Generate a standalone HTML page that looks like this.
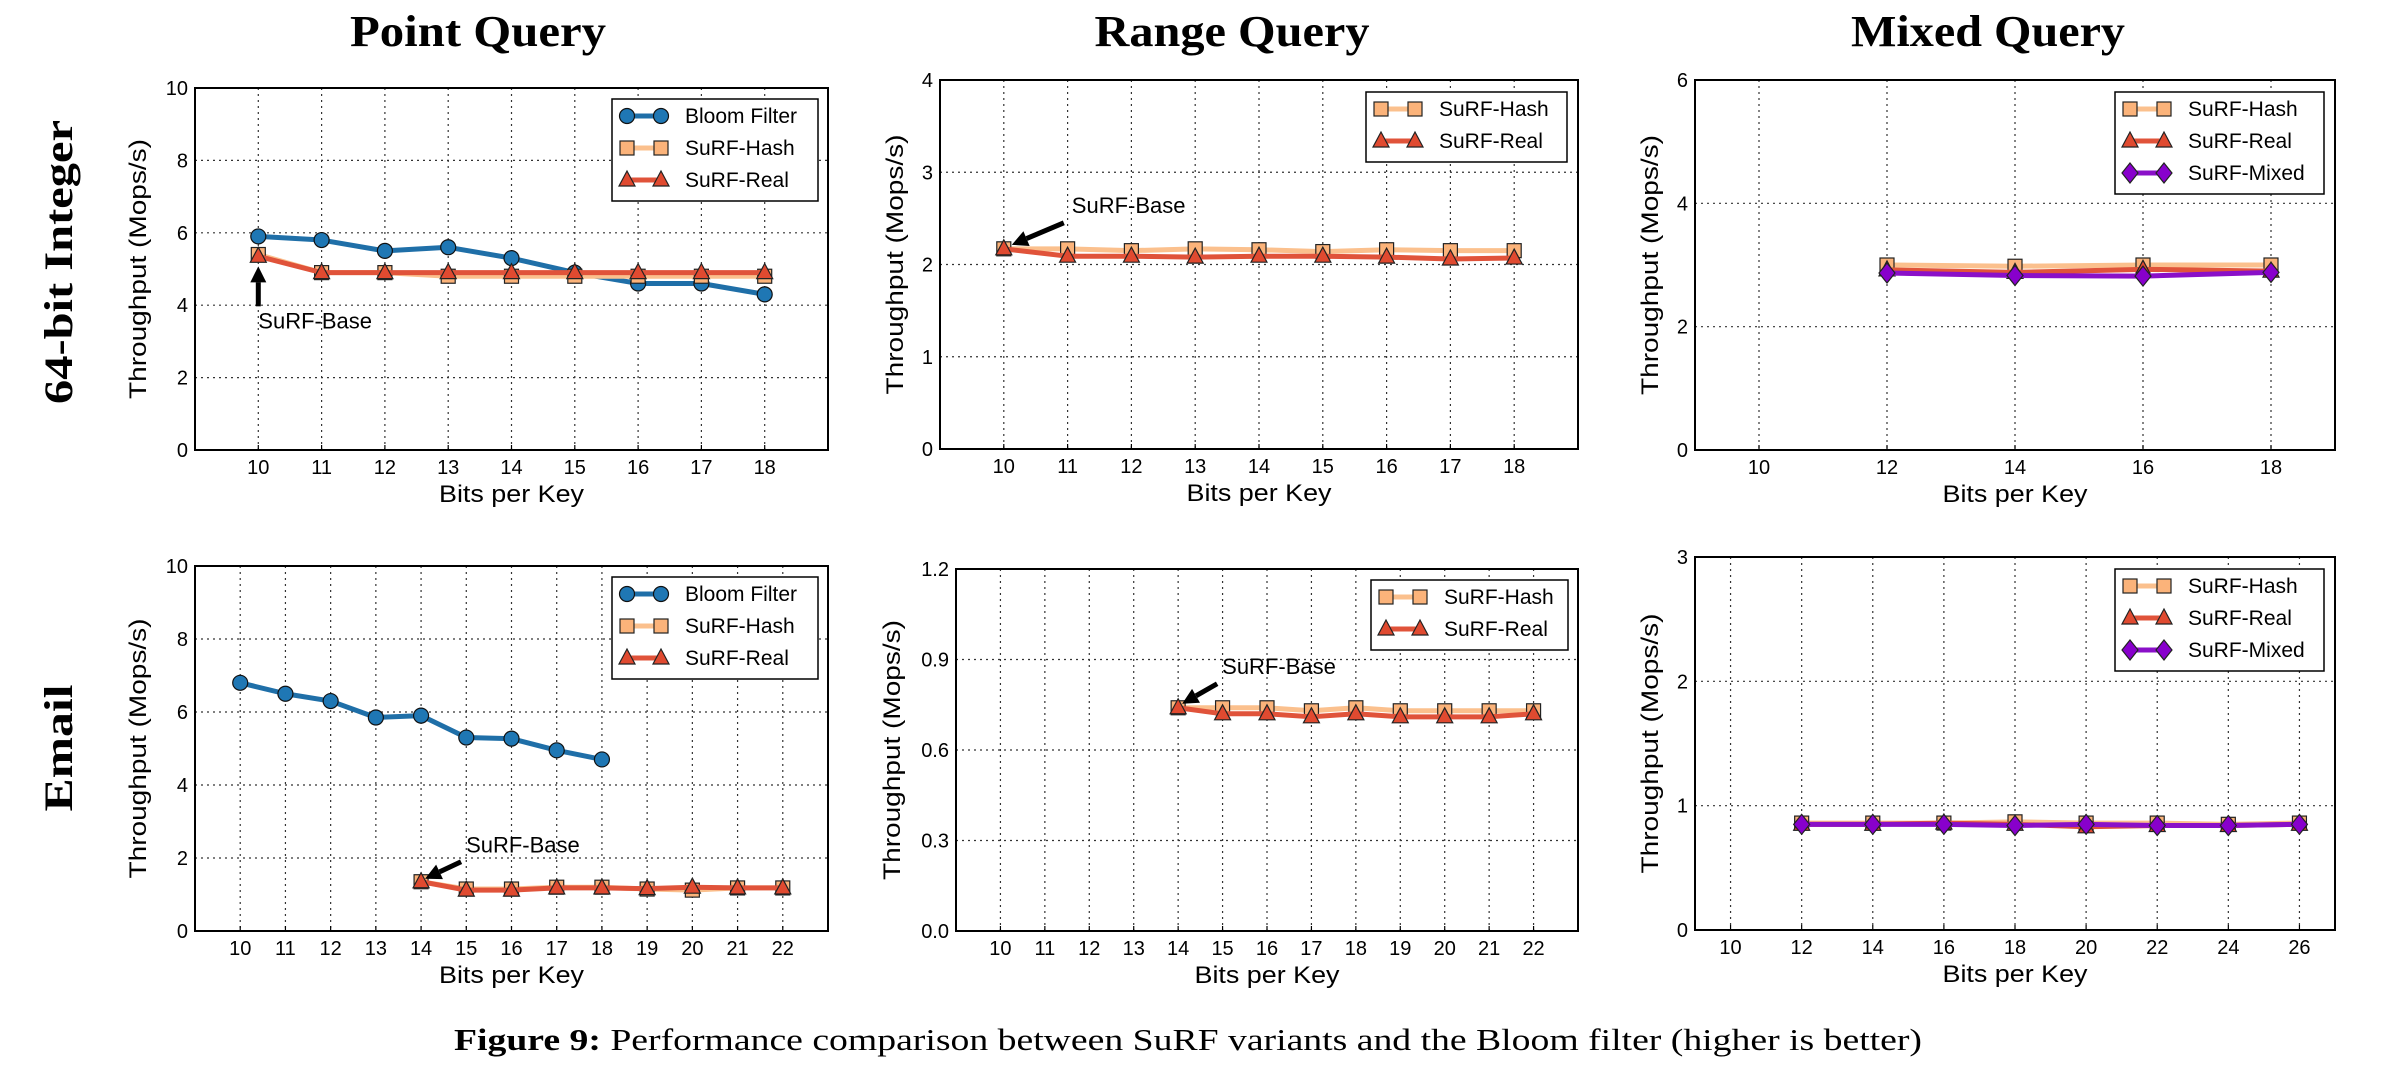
<!DOCTYPE html>
<html><head><meta charset="utf-8">
<style>
html,body{margin:0;padding:0;background:#fff;}
svg{display:block;}
</style></head>
<body>
<svg id="fig" xmlns="http://www.w3.org/2000/svg" width="2396" height="1076" viewBox="0 0 2396 1076">
<rect width="2396" height="1076" fill="#fff"/>
<text x="478" y="46" text-anchor="middle" font-family="Liberation Serif, serif" font-weight="bold" font-size="44" textLength="256" lengthAdjust="spacingAndGlyphs">Point Query</text>
<text x="1232" y="46" text-anchor="middle" font-family="Liberation Serif, serif" font-weight="bold" font-size="44" textLength="275" lengthAdjust="spacingAndGlyphs">Range Query</text>
<text x="1988" y="46" text-anchor="middle" font-family="Liberation Serif, serif" font-weight="bold" font-size="44" textLength="274" lengthAdjust="spacingAndGlyphs">Mixed Query</text>
<text transform="translate(72,262) rotate(-90)" text-anchor="middle" font-family="Liberation Serif, serif" font-weight="bold" font-size="40" textLength="284" lengthAdjust="spacingAndGlyphs">64-bit Integer</text>
<text transform="translate(72,748) rotate(-90)" text-anchor="middle" font-family="Liberation Serif, serif" font-weight="bold" font-size="40" textLength="127" lengthAdjust="spacingAndGlyphs">Email</text>
<text x="454" y="1050" font-family="Liberation Serif, serif" font-size="31" textLength="1468" lengthAdjust="spacingAndGlyphs"><tspan font-weight="bold">Figure 9:</tspan> Performance comparison between SuRF variants and the Bloom filter (higher is better)</text>
</svg>
<script>
// ---- data ----
const xIntTop = [10,11,12,13,14,15,16,17,18];
const pointIntBloom = [5.9,5.8,5.5,5.6,5.3,4.9,4.6,4.6,4.3];
const pointIntHash = [5.4,4.9,4.9,4.8,4.8,4.8,4.8,4.8,4.8];
const pointIntReal = [5.35,4.9,4.9,4.9,4.9,4.9,4.9,4.9,4.9];
const rangeIntHash = [2.17,2.17,2.15,2.17,2.16,2.14,2.16,2.15,2.15];
const rangeIntReal = [2.17,2.09,2.09,2.08,2.09,2.09,2.08,2.06,2.07];
const xMixedInt = [12,14,16,18];
const mixedIntHash = [3.0,2.98,3.0,3.0];
const mixedIntReal = [2.92,2.88,2.93,2.9];
const mixedIntMixed = [2.87,2.83,2.82,2.88];
const xEmailBloom = [10,11,12,13,14,15,16,17,18];
const pointEmailBloom = [6.8,6.5,6.3,5.85,5.9,5.3,5.27,4.95,4.7];
const xEmailSurf = [14,15,16,17,18,19,20,21,22];
const pointEmailHash = [1.35,1.15,1.15,1.2,1.2,1.15,1.12,1.18,1.18];
const pointEmailReal = [1.35,1.12,1.12,1.18,1.18,1.16,1.2,1.18,1.18];
const rangeEmailHash = [0.74,0.74,0.74,0.73,0.74,0.73,0.73,0.73,0.73];
const rangeEmailReal = [0.74,0.72,0.72,0.71,0.72,0.71,0.71,0.71,0.72];
const xMixedEmail = [12,14,16,18,20,22,24,26];
const mixedEmailHash = [0.86,0.86,0.86,0.87,0.86,0.86,0.85,0.86];
const mixedEmailReal = [0.85,0.85,0.86,0.85,0.83,0.84,0.84,0.85];
const mixedEmailMixed = [0.85,0.85,0.85,0.84,0.85,0.84,0.84,0.85];
const xTicksTop = [10,11,12,13,14,15,16,17,18];
const xTicksMixedTop = [10,12,14,16,18];
const xTicksEmail = [10,11,12,13,14,15,16,17,18,19,20,21,22];
const xTicksMixedEmail = [10,12,14,16,18,20,22,24,26];
const yTicksPoint = [0,2,4,6,8,10];
const yTicksRangeInt = [0,1,2,3,4];
const yTicksMixedInt = [0,2,4,6];
const yTicksRangeEmail = [0,0.3,0.6,0.9,1.2];
const yTicksRangeEmailLabels = ["0.0","0.3","0.6","0.9","1.2"];
const yTicksMixedEmail = [0,1,2,3];

const NS = "http://www.w3.org/2000/svg";
const svg = document.getElementById('fig');
function mk(tag, attrs, parent){
  const e = document.createElementNS(NS, tag);
  for (const k in attrs) e.setAttribute(k, attrs[k]);
  (parent||svg).appendChild(e);
  return e;
}
const STY = {
  bloom:{line:'#1f6fa8', fill:'#1f77b4', marker:'circle', label:'Bloom Filter'},
  hash:{line:'#fbc08d', fill:'#fbb37a', marker:'square', label:'SuRF-Hash'},
  real:{line:'#e0533a', fill:'#e04a30', marker:'triangle', label:'SuRF-Real'},
  mixed:{line:'#8a10c8', fill:'#8800cc', marker:'diamond', label:'SuRF-Mixed'}
};
function marker(g, type, cx, cy, st){
  let e;
  if (type==='circle') e = mk('circle',{cx:cx,cy:cy,r:7.5,fill:st.fill,stroke:'#111','stroke-width':1.2},g);
  else if (type==='square') e = mk('rect',{x:cx-7,y:cy-7,width:14,height:14,fill:st.fill,stroke:'#222','stroke-width':1.2},g);
  else if (type==='triangle') e = mk('polygon',{points:`${cx},${cy-9} ${cx+8},${cy+6} ${cx-8},${cy+6}`,fill:st.fill,stroke:'#222','stroke-width':1.2},g);
  else e = mk('polygon',{points:`${cx},${cy-10} ${cx+8},${cy} ${cx},${cy+10} ${cx-8},${cy}`,fill:st.fill,stroke:'#222','stroke-width':1.2},g);
  return e;
}
function panel(p){
  const g = mk('g',{});
  
  
  const sx = v => p.L + (v - p.xmin)/(p.xmax - p.xmin)*(p.R - p.L);
  const sy = v => p.B - (v - p.ymin)/(p.ymax - p.ymin)*(p.B - p.T);
  // grid
  p.xticks.forEach(t=>{
    const l = mk('line',{x1:sx(t),x2:sx(t),y1:p.T,y2:p.B,stroke:'#333','stroke-width':1.2,'stroke-dasharray':'2,4'},g);
    
    
    const tx = mk('text',{x:sx(t),y:p.B+24,'text-anchor':'middle','font-family':'Liberation Sans, sans-serif','font-size':20},g);
    tx.textContent = t;
    
    
    mk('line',{x1:sx(t),x2:sx(t),y1:p.B,y2:p.B-5,stroke:'#000','stroke-width':1.2},g);
  });
  p.yticks.forEach((t,i)=>{
    if (t!==p.ymin && t!==p.ymax){
      const l = mk('line',{x1:p.L,x2:p.R,y1:sy(t),y2:sy(t),stroke:'#333','stroke-width':1.2,'stroke-dasharray':'2,4'},g);
      
      
    }
    const tx = mk('text',{x:p.L-7,y:sy(t)+7,'text-anchor':'end','font-family':'Liberation Sans, sans-serif','font-size':20},g);
    tx.textContent = p.ylabels ? p.ylabels[i] : t;
    
    
  });
  // frame
  const fr = mk('rect',{x:p.L,y:p.T,width:p.R-p.L,height:p.B-p.T,fill:'none',stroke:'#000','stroke-width':2},g);
  
  
  // axis titles
  const xt = mk('text',{x:(p.L+p.R)/2,y:p.B+52,'text-anchor':'middle','font-family':'Liberation Sans, sans-serif','font-size':24,textLength:145,lengthAdjust:'spacingAndGlyphs'},g);
  xt.textContent = 'Bits per Key';
  
  
  const yc = (p.T+p.B)/2;
  const yt = mk('text',{transform:`translate(${p.L+p.ylabOff},${yc}) rotate(-90)`,'text-anchor':'middle','font-family':'Liberation Sans, sans-serif','font-size':24,textLength:260,lengthAdjust:'spacingAndGlyphs'},g);
  yt.textContent = 'Throughput (Mops/s)';
  
  
  // series
  p.series.forEach(s=>{
    const st = STY[s.key];
    const sg = mk('g',{},g);
    
    
    const pts = s.x.map((xv,i)=>sx(xv)+','+sy(s.y[i])).join(' ');
    mk('polyline',{points:pts,fill:'none',stroke:st.line,'stroke-width':5,'stroke-linejoin':'round'},sg);
    s.x.forEach((xv,i)=>{
      const m = marker(sg, st.marker, sx(xv), sy(s.y[i]), st);
      
      
    });
  });
  // legend
  const lg = mk('g',{},g);
  
  
  const rows = p.series.length;
  mk('rect',{x:p.lgL,y:p.lgT,width:p.lgW,height:rows*32+6,fill:'#fff',stroke:'#000','stroke-width':1.5},lg);
  p.series.forEach((s,i)=>{
    const st = STY[s.key];
    const cy = p.lgT+17+i*32;
    const eg = mk('g',{},lg);
    
    
    mk('line',{x1:p.lgL+15,x2:p.lgL+49,y1:cy,y2:cy,stroke:st.line,'stroke-width':5},eg);
    marker(eg, st.marker, p.lgL+15, cy, st);
    marker(eg, st.marker, p.lgL+49, cy, st);
    const t = mk('text',{x:p.lgL+73,y:cy+7,'font-family':'Liberation Sans, sans-serif','font-size':21},eg);
    t.textContent = st.label;
  });
  // annotation
  if (p.ann){
    const a = p.ann;
    const hx = sx(a.x)+a.hdx, hy = sy(a.y)+a.hdy;
    const tx0 = hx + a.tdx, ty0 = hy + a.tdy;
    const ag = mk('g',{},g);
    
    
    const ang = Math.atan2(hy-ty0, hx-tx0);
    const hl = 16, hw = 8;
    const bx = hx - hl*Math.cos(ang), by = hy - hl*Math.sin(ang);
    mk('line',{x1:tx0,y1:ty0,x2:bx,y2:by,stroke:'#000','stroke-width':5},ag);
    const px = -Math.sin(ang), py = Math.cos(ang);
    mk('polygon',{points:`${hx},${hy} ${bx+px*hw},${by+py*hw} ${bx-px*hw},${by-py*hw}`,fill:'#000'},ag);
    const t = mk('text',{x:tx0+a.lx,y:ty0+a.ly,'font-family':'Liberation Sans, sans-serif','font-size':22},ag);
    t.textContent = 'SuRF-Base';
  }
}
panel({name:'panel-point-int',L:195,R:828,T:88,B:450,xmin:9,xmax:19,ymin:0,ymax:10,xticks:xTicksTop,yticks:yTicksPoint,ylabOff:-49,
  series:[{key:'bloom',x:xIntTop,y:pointIntBloom},{key:'hash',x:xIntTop,y:pointIntHash},{key:'real',x:xIntTop,y:pointIntReal}],
  lgL:612,lgT:99,lgW:206,ann:{x:10,y:pointIntReal[0],hdx:0,hdy:10,tdx:0,tdy:40,lx:0,ly:22}});
panel({name:'panel-range-int',L:940,R:1578,T:80,B:449,xmin:9,xmax:19,ymin:0,ymax:4,xticks:xTicksTop,yticks:yTicksRangeInt,ylabOff:-37,
  series:[{key:'hash',x:xIntTop,y:rangeIntHash},{key:'real',x:xIntTop,y:rangeIntReal}],
  lgL:1366,lgT:92,lgW:201,ann:{x:10,y:rangeIntReal[0],hdx:8,hdy:-4,tdx:52,tdy:-22,lx:8,ly:-10}});
panel({name:'panel-mixed-int',L:1695,R:2335,T:80,B:450,xmin:9,xmax:19,ymin:0,ymax:6,xticks:xTicksMixedTop,yticks:yTicksMixedInt,ylabOff:-37,
  series:[{key:'hash',x:xMixedInt,y:mixedIntHash},{key:'real',x:xMixedInt,y:mixedIntReal},{key:'mixed',x:xMixedInt,y:mixedIntMixed}],
  lgL:2115,lgT:92,lgW:209});
panel({name:'panel-point-email',L:195,R:828,T:566,B:931,xmin:9,xmax:23,ymin:0,ymax:10,xticks:xTicksEmail,yticks:yTicksPoint,ylabOff:-49,
  series:[{key:'bloom',x:xEmailBloom,y:pointEmailBloom},{key:'hash',x:xEmailSurf,y:pointEmailHash},{key:'real',x:xEmailSurf,y:pointEmailReal}],
  lgL:612,lgT:577,lgW:206,ann:{x:14,y:pointEmailReal[0],hdx:4,hdy:-3,tdx:36,tdy:-17,lx:5,ly:-9}});
panel({name:'panel-range-email',L:956,R:1578,T:569,B:931,xmin:9,xmax:23,ymin:0,ymax:1.2,xticks:xTicksEmail,yticks:yTicksRangeEmail,ylabels:yTicksRangeEmailLabels,ylabOff:-56,
  series:[{key:'hash',x:xEmailSurf,y:rangeEmailHash},{key:'real',x:xEmailSurf,y:rangeEmailReal}],
  lgL:1371,lgT:580,lgW:197,ann:{x:14,y:rangeEmailReal[0],hdx:4,hdy:-4,tdx:35,tdy:-20,lx:5,ly:-10}});
panel({name:'panel-mixed-email',L:1695,R:2335,T:557,B:930,xmin:9,xmax:27,ymin:0,ymax:3,xticks:xTicksMixedEmail,yticks:yTicksMixedEmail,ylabOff:-37,
  series:[{key:'hash',x:xMixedEmail,y:mixedEmailHash},{key:'real',x:xMixedEmail,y:mixedEmailReal},{key:'mixed',x:xMixedEmail,y:mixedEmailMixed}],
  lgL:2115,lgT:569,lgW:209});
</script>
</body></html>
